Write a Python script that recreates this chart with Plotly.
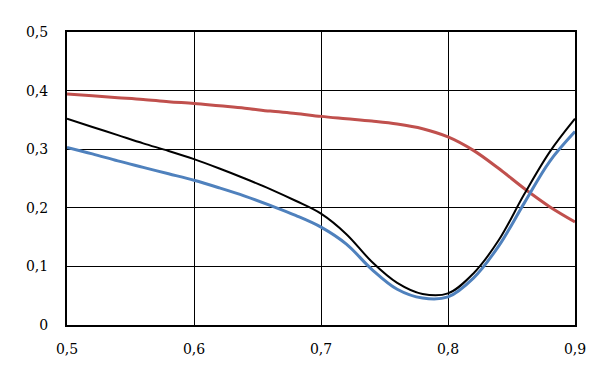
import plotly.graph_objects as go

x_vals = [0.50, 0.52, 0.54, 0.56, 0.58, 0.60, 0.62, 0.64, 0.66, 0.68, 0.70,
          0.72, 0.74, 0.76, 0.78, 0.80, 0.82, 0.84, 0.86, 0.88, 0.90]

y_red = [0.394, 0.391, 0.388, 0.385, 0.381, 0.378, 0.374, 0.370, 0.365, 0.361, 0.356,
         0.352, 0.348, 0.343, 0.335, 0.321, 0.298, 0.267, 0.233, 0.202, 0.176]

y_black = [0.352, 0.338, 0.324, 0.310, 0.297, 0.283, 0.267, 0.250, 0.232, 0.212, 0.190,
           0.155, 0.108, 0.072, 0.053, 0.054, 0.088, 0.145, 0.223, 0.295, 0.352]

y_blue = [0.303, 0.292, 0.280, 0.269, 0.258, 0.247, 0.234, 0.220, 0.204, 0.187, 0.167,
          0.138, 0.095, 0.061, 0.046, 0.048, 0.080, 0.135, 0.208, 0.279, 0.330]

x_ticks = [0.5, 0.6, 0.7, 0.8, 0.9]
y_ticks = [0, 0.1, 0.2, 0.3, 0.4, 0.5]

serif = "DejaVu Serif"

fig = go.Figure()
fig.add_trace(go.Scatter(x=x_vals, y=y_red, mode="lines",
                         line=dict(color="#C0504D", width=3, shape="spline", smoothing=1)))
fig.add_trace(go.Scatter(x=x_vals, y=y_black, mode="lines",
                         line=dict(color="#000000", width=2, shape="spline", smoothing=1)))
fig.add_trace(go.Scatter(x=x_vals, y=y_blue, mode="lines",
                         line=dict(color="#4F81BD", width=3, shape="spline", smoothing=1)))

fig.update_layout(
    width=611, height=377,
    margin=dict(l=59, r=44, t=24, b=60),
    paper_bgcolor="white", plot_bgcolor="white",
    showlegend=False,
    separators=", ",
    font=dict(family=serif, size=14, color="black"),
)
fig.update_xaxes(range=[0.5, 0.9], tickvals=x_ticks, showgrid=True, gridcolor="black", gridwidth=1,
                 showline=True, linecolor="black", linewidth=2, mirror=True, zeroline=False,
                 ticks="", ticklabelstandoff=10, tickfont=dict(family=serif, size=14, color="black"))
fig.update_yaxes(range=[0, 0.5], tickvals=y_ticks, showgrid=True, gridcolor="black", gridwidth=1,
                 showline=True, linecolor="black", linewidth=2, mirror=True, zeroline=False,
                 ticks="", ticklabelstandoff=14, tickfont=dict(family=serif, size=14, color="black"))

fig.write_html("out.html")
